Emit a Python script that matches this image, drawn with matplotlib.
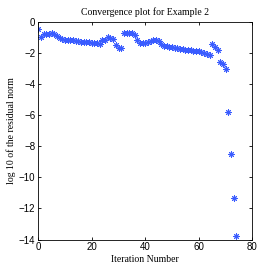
import numpy as np
import matplotlib
matplotlib.use("Agg")
import matplotlib.pyplot as plt

# log10 of residual norm per iteration
iters = np.arange(0, 75)
log_res = [-0.50, -0.97, -0.80, -0.78, -0.80, -0.76, -0.80, -0.92, -1.05, -1.12,
           -1.15, -1.16, -1.18, -1.21, -1.23, -1.26, -1.28, -1.30, -1.32, -1.34,
           -1.35, -1.37, -1.40, -1.45, -1.20, -1.15, -0.98, -1.05, -1.10, -1.50,
           -1.72, -1.68, -0.72, -0.73, -0.75, -0.72, -0.85, -1.15, -1.35, -1.38,
           -1.35, -1.30, -1.22, -1.15, -1.15, -1.25, -1.45, -1.55, -1.58, -1.62,
           -1.65, -1.68, -1.72, -1.75, -1.78, -1.80, -1.82, -1.84, -1.86, -1.88,
           -1.90, -1.95, -2.00, -2.07, -2.12, -1.42, -1.60, -1.82, -2.62, -2.70,
           -3.06, -5.80, -8.50, -11.30, -13.80]

xticks = [0, 20, 40, 60, 80]
yticks = [-14, -12, -10, -8, -6, -4, -2, 0]

fig = plt.figure(figsize=(2.77, 2.77), dpi=100)
ax = fig.add_axes([0.138, 0.135, 0.773, 0.787])

ax.plot(iters, log_res, linestyle="none", marker=(8, 2, 0), color="#3a5cff",
        markersize=4.5, markeredgewidth=0.7)

ax.set_xlim(0, 80)
ax.set_ylim(-14, 0)
ax.set_xticks(xticks)
ax.set_yticks(yticks)
ax.set_yticklabels(["\u2212%d" % -t if t < 0 else "%d" % t for t in yticks])
ax.tick_params(direction="in", length=2.5, width=0.6, labelsize=7,
               top=True, right=True, pad=2)
for lab in ax.get_xticklabels() + ax.get_yticklabels():
    lab.set_family("Liberation Sans")
for s in ax.spines.values():
    s.set_linewidth(0.6)

ax.set_title("Convergence plot for Example 2", fontsize=7,
             family="Liberation Serif", pad=5)
ax.set_xlabel("Iteration Number", fontsize=7, family="Liberation Serif", labelpad=2)
ax.set_ylabel("log 10 of the residual norm", fontsize=7,
              family="Liberation Serif", labelpad=2)

fig.savefig("out.png", dpi=100)
